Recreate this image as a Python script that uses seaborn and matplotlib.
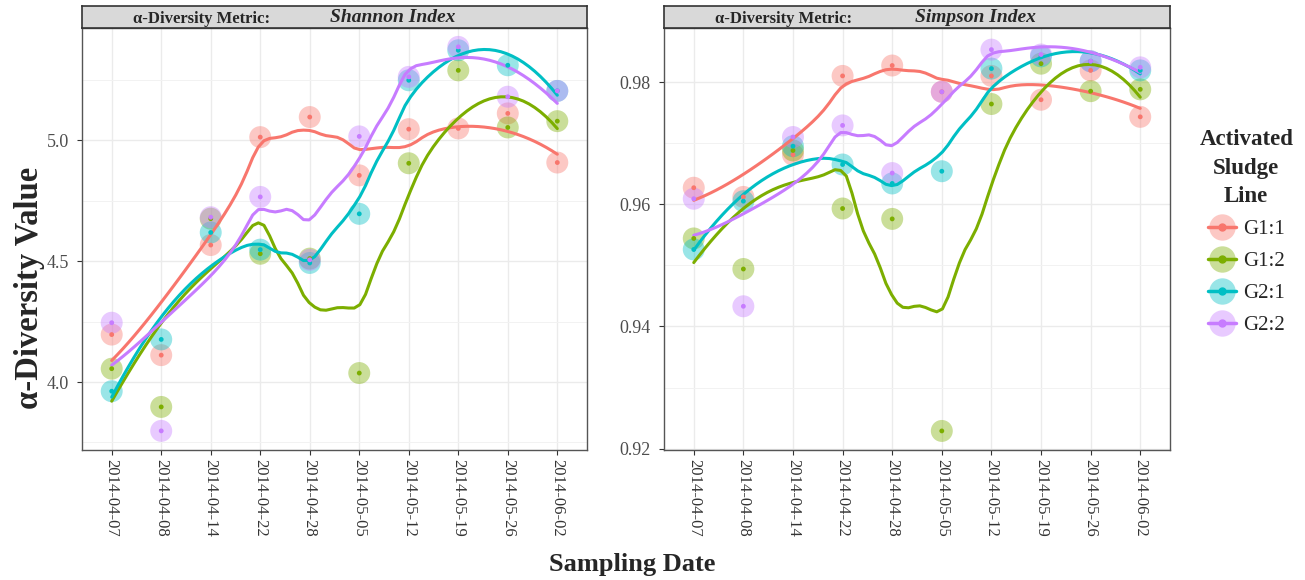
import numpy as np
import pandas as pd
import matplotlib
matplotlib.use("Agg")
import matplotlib.pyplot as plt
from matplotlib.lines import Line2D
from matplotlib.legend_handler import HandlerTuple
import seaborn as sns

# ---- data -------------------------------------------------------------
dates = ["2014-04-07", "2014-04-08", "2014-04-14", "2014-04-22", "2014-04-28",
         "2014-05-05", "2014-05-12", "2014-05-19", "2014-05-26", "2014-06-02"]
lines = ["G1:1", "G1:2", "G2:1", "G2:2"]

shannon_g11 = [4.196, 4.111, 4.566, 5.012, 5.095, 4.854, 5.045, 5.048, 5.110, 4.907]
shannon_g12 = [4.055, 3.897, 4.675, 4.530, 4.510, 4.037, 4.904, 5.288, 5.052, 5.078]
shannon_g21 = [3.962, 4.176, 4.618, 4.547, 4.492, 4.695, 5.247, 5.371, 5.309, 5.203]
shannon_g22 = [4.245, 3.798, 4.681, 4.765, 4.505, 5.015, 5.261, 5.385, 5.179, 5.203]

simpson_g11 = [0.9627, 0.9612, 0.9681, 0.9810, 0.9827, 0.9784, 0.9810, 0.9771, 0.9819, 0.9743]
simpson_g12 = [0.9544, 0.9494, 0.9688, 0.9593, 0.9576, 0.9229, 0.9764, 0.9830, 0.9785, 0.9788]
simpson_g21 = [0.9526, 0.9605, 0.9695, 0.9665, 0.9634, 0.9654, 0.9822, 0.9842, 0.9834, 0.9819]
simpson_g22 = [0.9609, 0.9433, 0.9710, 0.9729, 0.9651, 0.9784, 0.9853, 0.9845, 0.9834, 0.9824]

palette = ["#F8766D", "#7CAE00", "#00BFC4", "#C77CFF"]

metrics = {
    "Shannon Index": [shannon_g11, shannon_g12, shannon_g21, shannon_g22],
    "Simpson Index": [simpson_g11, simpson_g12, simpson_g21, simpson_g22],
}


def loess(x, y, grid, span=0.75, degree=2):
    """Local polynomial regression with tricube weights."""
    x = np.asarray(x, float)
    y = np.asarray(y, float)
    n = len(x)
    q = max(int(np.floor(n * span)), degree + 1)
    out = np.empty(len(grid))
    for i, x0 in enumerate(grid):
        d = np.abs(x - x0)
        h = np.sort(d)[q - 1] * 1.0000001
        w = np.clip(1 - (d / h) ** 3, 0, None) ** 3
        X = np.vander(x - x0, degree + 1, increasing=True)
        W = np.sqrt(w)
        coef, *_ = np.linalg.lstsq(X * W[:, None], y * W, rcond=None)
        out[i] = coef[0]
    return out


# long-form tables for seaborn
pos = np.arange(1, len(dates) + 1)
grid = np.linspace(1, len(dates), 80)
points, smooth = {}, {}
for metric, series in metrics.items():
    p_rows, s_rows = [], []
    for name, vals in zip(lines, series):
        p_rows.append(pd.DataFrame({"x": pos, "value": vals, "line": name}))
        s_rows.append(pd.DataFrame({"x": grid, "value": loess(pos, vals, grid), "line": name}))
    points[metric] = pd.concat(p_rows, ignore_index=True)
    smooth[metric] = pd.concat(s_rows, ignore_index=True)

# ---- figure -----------------------------------------------------------
sns.set_theme(style="white")
plt.rcParams["font.family"] = ["Liberation Serif", "DejaVu Serif"]

W, H = 1305, 580
fig = plt.figure(figsize=(W / 100, H / 100), dpi=100)

panels = {
    "Shannon Index": dict(left=82, width=505, ylim=(3.719, 5.463),
                          major=[4.0, 4.5, 5.0], minor=[3.75, 4.25, 4.75, 5.25],
                          fmt="{:.1f}"),
    "Simpson Index": dict(left=664, width=506, ylim=(0.91978, 0.98884),
                          major=[0.92, 0.94, 0.96, 0.98], minor=[0.93, 0.95, 0.97],
                          fmt="{:.2f}"),
}
plot_top, plot_bottom = 28, 450
strip_top = 6

for metric, cfg in panels.items():
    ax = fig.add_axes([cfg["left"] / W, 1 - plot_bottom / H,
                       cfg["width"] / W, (plot_bottom - plot_top) / H])
    ax.set_facecolor("white")
    hue_kw = dict(hue="line", hue_order=lines, palette=palette, legend=False)
    sns.scatterplot(data=points[metric], x="x", y="value", s=250, alpha=0.4,
                    linewidth=0, ax=ax, zorder=3, **hue_kw)
    sns.lineplot(data=smooth[metric], x="x", y="value", linewidth=2.2,
                 ax=ax, zorder=4, **hue_kw)
    sns.scatterplot(data=points[metric], x="x", y="value", s=12,
                    linewidth=0, ax=ax, zorder=5, **hue_kw)

    ax.set_xlim(0.4, len(dates) + 0.6)
    ax.set_ylim(*cfg["ylim"])
    ax.set_xticks(pos)
    ax.set_xticklabels(dates, rotation=270, fontsize=12, color="#333333",
                       va="top", ha="center")
    ax.set_yticks(cfg["major"])
    ax.set_yticklabels([cfg["fmt"].format(v) for v in cfg["major"]],
                       fontsize=13, color="#4D4D4D")
    ax.set_yticks(cfg["minor"], minor=True)
    ax.tick_params(axis="both", which="major", direction="out", length=3.5,
                   width=0.8, color="#333333", bottom=True, left=True)
    ax.tick_params(axis="y", which="major", pad=6)
    ax.tick_params(axis="x", which="major", pad=3)
    ax.tick_params(axis="y", which="minor", length=0)
    ax.grid(True, which="major", color="#EBEBEB", linewidth=1.0)
    ax.grid(True, which="minor", axis="y", color="#F2F2F2", linewidth=0.7)
    ax.set_axisbelow(True)
    for sp in ax.spines.values():
        sp.set_color("#555555")
        sp.set_linewidth(1.0)
    ax.set_xlabel("")
    ax.set_ylabel("")

    # facet strip
    sax = fig.add_axes([cfg["left"] / W, 1 - plot_top / H,
                        cfg["width"] / W, (plot_top - strip_top) / H])
    sax.set_facecolor("#D9D9D9")
    sax.set_xticks([])
    sax.set_yticks([])
    for sp in sax.spines.values():
        sp.set_color("#333333")
        sp.set_linewidth(1.2)
    sax.text(0.101, 0.42, "α-Diversity Metric:", transform=sax.transAxes,
             ha="left", va="center", fontsize=12, fontweight="bold")
    sax.text(0.615, 0.47, metric, transform=sax.transAxes, ha="center",
             va="center", fontsize=14, fontweight="bold", fontstyle="italic")

fig.text(30 / W, 1 - 288 / H, "α-Diversity Value", rotation=90, ha="center",
         va="center", fontsize=23.5, fontweight="bold")
fig.text(632 / W, 1 - 565 / H, "Sampling Date", ha="center", va="center",
         fontsize=19, fontweight="bold")

# legend: translucent disc + line with centre dot, overlaid in one key
handles = []
for c in palette:
    disc = Line2D([], [], marker="o", markersize=19, color=c, alpha=0.4,
                  linestyle="none", markeredgewidth=0)
    stroke = Line2D([], [], color=c, linewidth=2.5, marker="o", markersize=5)
    handles.append((disc, stroke))
leg = fig.legend(handles, lines,
                 handler_map={tuple: HandlerTuple(ndivide=1, pad=0)},
                 title="Activated\nSludge\nLine", loc="upper left",
                 bbox_to_anchor=(1191 / W, 1 - 121 / H), frameon=False,
                 fontsize=15, title_fontproperties={"weight": "bold", "size": 16.5},
                 handlelength=1.35, handletextpad=0.35, labelspacing=0.6,
                 borderaxespad=0)
leg._legend_box.align = "center"
leg.get_title().set_multialignment("center")
leg.get_title().set_linespacing(1.45)

fig.savefig("out.png", dpi=100, facecolor="white")
